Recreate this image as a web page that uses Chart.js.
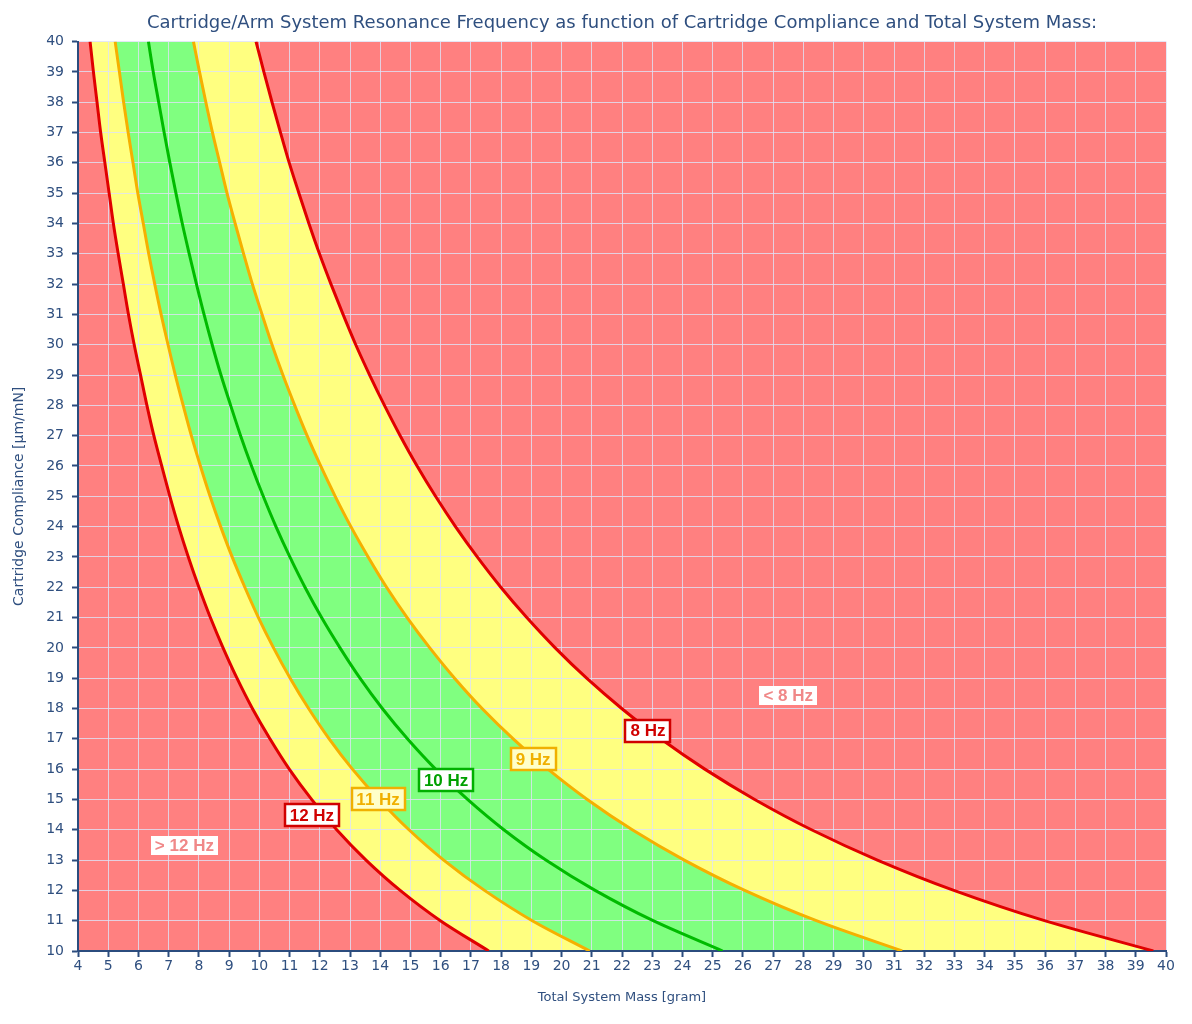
<!DOCTYPE html>
<html>
<head>
<meta charset="utf-8">
<title>Cartridge/Arm System Resonance Frequency</title>
<script src="https://cdn.jsdelivr.net/npm/chart.js@4.4.1/dist/chart.umd.min.js"></script>
<style>
    html, body { margin: 0; padding: 0; background: #ffffff; }
    #wrap { width: 1192px; height: 1024px; }
</style>
</head>
<body>
<div id="wrap"><canvas id="myChart"></canvas></div>
<script>
// compliance steps on the y axis (µm/mN)
var compliance = [10, 11, 12, 13, 14, 15, 16, 17, 18, 19, 20, 21, 22, 23, 24, 25,
    26, 27, 28, 29, 30, 31, 32, 33, 34, 35, 36, 37, 38, 39, 40];

// total system mass (gram) where each curve crosses the compliance steps
var mass12Hz = [17.59, 15.99, 14.66, 13.53, 12.56, 11.73, 10.99, 10.35, 9.77, 9.26, 8.80,
    8.38, 8.00, 7.65, 7.33, 7.04, 6.77, 6.51, 6.28, 6.07, 5.86, 5.67, 5.50, 5.33, 5.17,
    5.03, 4.89, 4.75, 4.63, 4.51, 4.40];
var mass11Hz = [20.93, 19.03, 17.45, 16.10, 14.95, 13.96, 13.08, 12.31, 11.63, 11.02, 10.47,
    9.97, 9.52, 9.10, 8.72, 8.37, 8.05, 7.75, 7.48, 7.22, 6.98, 6.75, 6.54, 6.34, 6.16,
    5.98, 5.82, 5.66, 5.51, 5.37, 5.23];
var mass10Hz = [25.33, 23.03, 21.11, 19.48, 18.09, 16.89, 15.83, 14.90, 14.07, 13.33, 12.67,
    12.06, 11.51, 11.01, 10.55, 10.13, 9.74, 9.38, 9.05, 8.73, 8.44, 8.17, 7.92, 7.68, 7.45,
    7.24, 7.04, 6.85, 6.67, 6.49, 6.33];
var mass9Hz = [31.27, 28.43, 26.06, 24.06, 22.34, 20.85, 19.55, 18.40, 17.37, 16.46, 15.64,
    14.89, 14.21, 13.60, 13.03, 12.51, 12.03, 11.58, 11.17, 10.78, 10.42, 10.09, 9.77, 9.48, 9.20,
    8.93, 8.69, 8.45, 8.23, 8.02, 7.82];
var mass8Hz = [39.58, 35.98, 32.98, 30.45, 28.27, 26.39, 24.74, 23.28, 21.99, 20.83, 19.79,
    18.85, 17.99, 17.21, 16.49, 15.83, 15.22, 14.66, 14.14, 13.65, 13.19, 12.77, 12.37, 11.99, 11.64,
    11.31, 10.99, 10.70, 10.42, 10.15, 9.89];

// axis ranges (ticks every 1)
var massRange = [4, 40];
var complianceRange = [10, 40];

var RED = '#FF8080', YELLOW = '#FFFF80', GREEN = '#80FF80';
var TEXT = '#2F4F7F';
var AXIS = '#2B4C7E';
var GRID = 'rgba(222, 226, 246, 0.8)';
var FONT = '"DejaVu Sans", Verdana, sans-serif';

function toPoints(masses) {
    return compliance.map(function (c, i) {
        return { x: masses[i], y: c };
    });
}

function curve(label, masses, color, fill, fillColor) {
    return {
        label: label,
        data: toPoints(masses),
        borderColor: color,
        borderWidth: 3,
        backgroundColor: fillColor,
        fill: fill,
        pointRadius: 0,
        cubicInterpolationMode: 'monotone'
    };
}

var zoneLabels = {
    id: 'zoneLabels',
    afterDatasetsDraw: function (chart, args, opts) {
        var ctx = chart.ctx;
        var xs = chart.scales.x;
        var ys = chart.scales.y;
        ctx.save();
        ctx.font = 'bold 17px "Liberation Sans", Arial, sans-serif';
        ctx.textAlign = 'center';
        ctx.textBaseline = 'middle';
        opts.items.forEach(function (it) {
            var px = xs.getPixelForValue(it.x);
            var py = ys.getPixelForValue(it.y);
            var w = Math.round(ctx.measureText(it.text).width + (it.border ? 12 : 8));
            var h = it.border ? 24 : 19;
            var left = Math.round(px - w / 2);
            var top = Math.round(py - h / 2);
            ctx.fillStyle = it.bg;
            ctx.fillRect(left, top, w, h);
            if (it.border) {
                ctx.strokeStyle = it.border;
                ctx.lineWidth = 2.5;
                ctx.strokeRect(left + 1, top + 1, w - 2, h - 2);
            }
            ctx.fillStyle = it.color;
            ctx.fillText(it.text, px, py + 1);
        });
        ctx.restore();
    }
};

var ctx = document.getElementById('myChart').getContext('2d');
var myChart = new Chart(ctx, {
    type: 'line',
    data: {
        datasets: [
            curve('12 Hz', mass12Hz, '#E00000', '+1', YELLOW),
            curve('11 Hz', mass11Hz, '#F5B000', '+1', GREEN),
            curve('10 Hz', mass10Hz, '#00BB00', '+1', GREEN),
            curve('9 Hz', mass9Hz, '#F5B000', '+1', YELLOW),
            curve('8 Hz', mass8Hz, '#E00000', { value: massRange[1] }, RED),
            // left red zone (> 12 Hz), no line of its own
            {
                label: '> 12 Hz',
                data: toPoints(mass12Hz),
                borderColor: 'rgba(0,0,0,0)',
                borderWidth: 0,
                backgroundColor: RED,
                fill: { value: massRange[0] },
                pointRadius: 0,
                cubicInterpolationMode: 'monotone'
            }
        ]
    },
    options: {
        responsive: true,
        maintainAspectRatio: false,
        animation: false,
        indexAxis: 'y',
        layout: { padding: { left: 0, right: 26, top: 0, bottom: 0 } },
        plugins: {
            legend: { display: false },
            tooltip: { enabled: false },
            filler: { drawTime: 'beforeDraw' },
            title: {
                display: true,
                fullSize: false,
                text: 'Cartridge/Arm System Resonance Frequency as function of Cartridge Compliance and Total System Mass:',
                color: TEXT,
                font: { family: FONT, size: 18, weight: 'normal', lineHeight: 1.2 },
                padding: { top: 13, bottom: 7 }
            },
            zoneLabels: {
                items: [
                    { text: '> 12 Hz', x: 7.52, y: 13.48, color: '#F08888', bg: '#FFFFFF' },
                    { text: '12 Hz', x: 11.74, y: 14.48, color: '#D00000', bg: '#FFFFFF', border: '#D00000' },
                    { text: '11 Hz', x: 13.93, y: 15.01, color: '#F0B000', bg: '#FFFFC8', border: '#F0B000' },
                    { text: '10 Hz', x: 16.18, y: 15.64, color: '#00A000', bg: '#FFFFFF', border: '#00B000' },
                    { text: '9 Hz', x: 19.06, y: 16.33, color: '#F0B000', bg: '#FFFFC8', border: '#F0B000' },
                    { text: '8 Hz', x: 22.86, y: 17.27, color: '#D00000', bg: '#FFFFFF', border: '#D00000' },
                    { text: '< 8 Hz', x: 27.5, y: 18.42, color: '#F08888', bg: '#FFFFFF' }
                ]
            }
        },
        scales: {
            x: {
                type: 'linear',
                min: massRange[0],
                max: massRange[1],
                afterFit: function (scale) { scale.height = 73; },
                ticks: {
                    stepSize: 1,
                    autoSkip: false,
                    maxRotation: 0,
                    padding: 1,
                    color: TEXT,
                    font: { family: FONT, size: 14 }
                },
                grid: {
                    color: GRID,
                    lineWidth: 1,
                    tickColor: AXIS,
                    tickLength: 6,
                    tickWidth: 2
                },
                border: { color: AXIS, width: 2 },
                title: {
                    display: true,
                    text: 'Total System Mass [gram]',
                    color: TEXT,
                    font: { family: FONT, size: 13 },
                    padding: { top: 4, bottom: 19 }
                }
            },
            y: {
                type: 'linear',
                min: complianceRange[0],
                max: complianceRange[1],
                afterFit: function (scale) { scale.width = 78; },
                ticks: {
                    stepSize: 1,
                    autoSkip: false,
                    padding: 8,
                    color: TEXT,
                    font: { family: FONT, size: 14 }
                },
                grid: {
                    color: GRID,
                    lineWidth: 1,
                    tickColor: AXIS,
                    tickLength: 6,
                    tickWidth: 2
                },
                border: { color: AXIS, width: 2 },
                title: {
                    display: true,
                    text: 'Cartridge Compliance [µm/mN]',
                    color: TEXT,
                    font: { family: FONT, size: 14 },
                    padding: { top: 11, bottom: 0 }
                }
            }
        }
    },
    plugins: [zoneLabels]
});
</script>
</body>
</html>
